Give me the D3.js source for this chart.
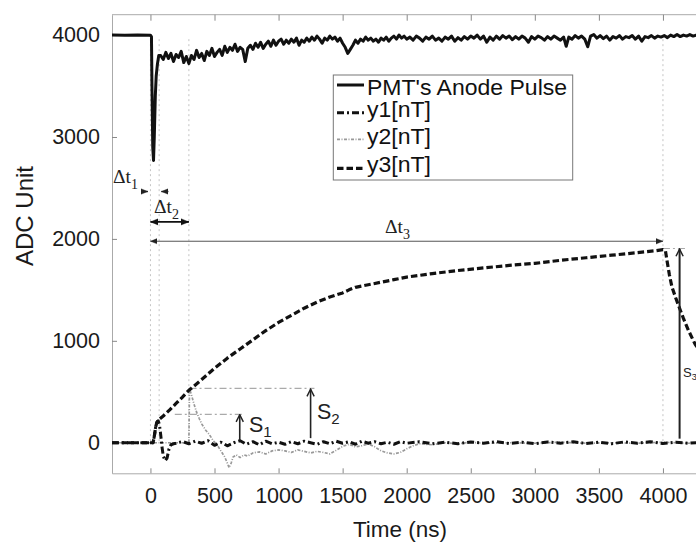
<!DOCTYPE html>
<html>
<head>
<meta charset="utf-8">
<script src="https://cdn.jsdelivr.net/npm/d3@7"></script>
<style>
  body { margin: 0; background: #fff; }
  svg { display: block; font-family: "Liberation Sans", Arial, sans-serif; }
</style>
</head>
<body>
<svg id="chart" width="696" height="543"></svg>
<script>
const xTicks = [0, 500, 1000, 1500, 2000, 2500, 3000, 3500, 4000, 4500];
const yTicks = [0, 1000, 2000, 3000, 4000];
const seriesNames = ["PMT's Anode Pulse", 'y1[nT]', 'y2[nT]', 'y3[nT]'];
const markerTimes = [0, 68, 300, 4000];

// [time ns, ADC]
const pmtPulse = [
  [-300, 4000], [-200, 3998], [-100, 4001], [0, 3998], [8, 3985], [12, 3500], [18, 2900], [24, 2770],
  [30, 3000], [38, 3400], [45, 3600], [55, 3720], [65, 3800], [80, 3800], [100, 3760], [120, 3830],
  [140, 3770], [160, 3820], [180, 3740], [200, 3810], [220, 3780], [240, 3840], [260, 3730], [280, 3790],
  [300, 3720], [320, 3800], [340, 3760], [360, 3850], [380, 3780], [400, 3820], [420, 3750], [440, 3840],
  [460, 3800], [480, 3870], [500, 3790], [520, 3830], [540, 3860], [560, 3800], [580, 3890], [600, 3830],
  [620, 3880], [640, 3850], [660, 3910], [680, 3840], [700, 3880], [720, 3860], [740, 3740], [760, 3870],
  [780, 3900], [800, 3860], [820, 3920], [840, 3880], [860, 3930], [880, 3870], [900, 3910], [920, 3940],
  [940, 3890], [960, 3950], [980, 3900], [1000, 3940], [1020, 3960], [1040, 3910], [1060, 3950], [1080, 3920],
  [1100, 3960], [1120, 3930], [1140, 3970], [1160, 3900], [1180, 3950], [1200, 3930], [1220, 3970], [1240, 3940],
  [1260, 3980], [1280, 3950], [1300, 3990], [1320, 3960], [1340, 3920], [1360, 3970], [1380, 3950], [1400, 3990],
  [1420, 3960], [1440, 3980], [1460, 3940], [1480, 3970], [1500, 3920], [1520, 3880], [1540, 3820], [1560, 3860],
  [1580, 3900], [1600, 3950], [1620, 3920], [1640, 3960], [1660, 3940], [1680, 3980], [1700, 3950], [1720, 3970],
  [1740, 3940], [1760, 3960], [1780, 3930], [1800, 3970], [1820, 3950], [1840, 3980], [1860, 3940], [1880, 3970],
  [1900, 3990], [1920, 3960], [1940, 4000], [1960, 3970], [1980, 3990], [2000, 3960], [2025, 3980], [2050, 3950],
  [2075, 3990], [2100, 3970], [2125, 3940], [2150, 3980], [2175, 3960], [2200, 3990], [2225, 3950], [2250, 3970],
  [2275, 3940], [2300, 3980], [2325, 3960], [2350, 3990], [2375, 3940], [2400, 3975], [2425, 3950], [2450, 3985],
  [2475, 3960], [2500, 3990], [2525, 3970], [2550, 4000], [2575, 3960], [2600, 3990], [2625, 3930], [2650, 3980],
  [2675, 3950], [2700, 3990], [2725, 3960], [2750, 3995], [2775, 3970], [2800, 3990], [2825, 3955], [2850, 3985],
  [2875, 3960], [2900, 3990], [2925, 3970], [2950, 3930], [2975, 3985], [3000, 3960], [3025, 3990], [3050, 3975],
  [3075, 3950], [3100, 3985], [3125, 3960], [3150, 3990], [3175, 3970], [3200, 3950], [3225, 3980], [3245, 3890],
  [3265, 3980], [3290, 3960], [3315, 3995], [3340, 3970], [3365, 3990], [3390, 3960], [3413, 3885], [3435, 3990],
  [3460, 4005], [3485, 3970], [3510, 3995], [3535, 3965], [3560, 3990], [3585, 3950], [3610, 3985], [3635, 3970],
  [3660, 3995], [3685, 3960], [3710, 3985], [3735, 3975], [3760, 3995], [3785, 3960], [3810, 3990], [3835, 3940],
  [3860, 3985], [3885, 3975], [3910, 3995], [3935, 3970], [3960, 3990], [3985, 3980], [4010, 3995], [4035, 3975],
  [4060, 4000], [4085, 3985], [4110, 4005], [4135, 3985], [4160, 4000], [4185, 3990], [4210, 4005], [4235, 3990],
  [4260, 4000], [4300, 3995]
];

const y1Data = [
  [-300, 0], [0, 0], [20, 0], [30, 60], [40, 150], [50, 200], [60, 215], [70, 180], [80, 80], [90, -40],
  [100, -130], [115, -175], [130, -150], [145, -60], [160, -20], [180, -10], [200, -5], [250, 12], [300, -10],
  [350, 15], [400, -5], [450, 20], [500, -25], [550, 5], [600, -30], [650, 0], [700, 20], [750, -15], [800, 10],
  [850, -20], [900, 15], [950, -10], [1000, 5], [1050, -15], [1100, 10], [1150, -10], [1200, 15], [1250, 0],
  [1300, -15], [1350, 10], [1400, -10], [1450, 15], [1500, -5], [1550, 10], [1600, -15], [1650, 15], [1700, -5],
  [1750, 10], [1800, -10], [1850, 5], [1900, -15], [1950, 10], [2000, -5], [2100, 10], [2200, -10], [2300, 5],
  [2400, -10], [2500, 8], [2600, -5], [2700, 10], [2800, -8], [2900, 5], [3000, -10], [3100, 8], [3200, -5],
  [3300, 10], [3400, -8], [3500, 5], [3600, -10], [3700, 8], [3800, -5], [3900, 10], [4000, -8], [4100, 5],
  [4200, -5], [4300, 5]
];

const y2Data = [
  [-300, 0], [300, 0], [305, 530], [320, 470], [340, 380], [360, 300], [380, 240], [400, 185], [430, 125],
  [460, 80], [490, 20], [520, -20], [550, -80], [580, -140], [600, -200], [614, -245], [630, -200], [645, -140],
  [670, -120], [700, -145], [730, -120], [760, -130], [800, -100], [850, -90], [900, -110], [950, -80],
  [1000, -70], [1050, -80], [1100, -95], [1150, -70], [1200, -85], [1250, -100], [1300, -85], [1350, -95],
  [1400, -110], [1450, -75], [1500, -35], [1550, -15], [1600, -40], [1650, -30], [1700, -10], [1750, -40],
  [1800, -80], [1850, -100], [1900, -110], [1950, -95], [2000, -60], [2050, -30], [2100, -10], [2200, -20],
  [2300, 0], [2400, -10], [2500, 5], [2600, -5], [2800, 0], [3000, -5], [3200, 5], [3400, -5], [3600, 0],
  [3800, -5], [4000, 5], [4200, -5], [4300, 0]
];

const y3Data = [
  [-300, 0], [0, 0], [20, 0], [30, 60], [40, 150], [50, 200], [65, 225], [100, 262], [150, 322], [200, 385],
  [250, 448], [300, 515], [320, 535], [400, 620], [500, 730], [600, 830], [700, 920], [800, 1010], [900, 1100],
  [1000, 1180], [1100, 1250], [1200, 1320], [1300, 1380], [1400, 1430], [1500, 1470], [1550, 1500], [1600, 1525],
  [1700, 1550], [1800, 1575], [1900, 1600], [2000, 1625], [2200, 1660], [2400, 1690], [2600, 1715],
  [2800, 1740], [3000, 1760], [3200, 1790], [3400, 1815], [3600, 1840], [3800, 1865], [3950, 1885],
  [4000, 1895], [4020, 1880], [4030, 1800], [4050, 1650], [4070, 1530], [4100, 1420], [4130, 1320],
  [4160, 1220], [4200, 1100], [4250, 970], [4300, 870]
];

const W = 696, H = 543;
const plot = { left: 112, top: 14.7, bottom: 473.3, right: 727 };

const svg = d3.select('#chart');
svg.append('rect').attr('width', W).attr('height', H).attr('fill', '#fff');

const x = d3.scaleLinear().domain([-300, 4500]).range([plot.left, plot.right]);
const y = d3.scaleLinear().domain([-300, 4200]).range([plot.bottom, plot.top]);

const defs = svg.append('defs');
defs.append('clipPath').attr('id', 'clip').append('rect')
  .attr('x', plot.left).attr('y', plot.top)
  .attr('width', plot.right - plot.left).attr('height', plot.bottom - plot.top);

function addMarker(id, size, open, color) {
  const m = defs.append('marker').attr('id', id)
    .attr('viewBox', '0 0 10 10').attr('refX', open ? 9 : 10).attr('refY', 5)
    .attr('markerUnits', 'userSpaceOnUse')
    .attr('markerWidth', size).attr('markerHeight', size)
    .attr('orient', 'auto-start-reverse');
  m.append('path')
    .attr('d', open ? 'M1,1 L9,5 L1,9' : 'M0,1 L10,5 L0,9 z')
    .attr('fill', open ? 'none' : color)
    .attr('stroke', color).attr('stroke-width', open ? 1.6 : 0.5);
}
addMarker('headFill', 8, false, '#111');
addMarker('headSmall', 7, false, '#222');
addMarker('headOpen', 9, true, '#222');

// frame + axes
svg.append('line').attr('x1', plot.left).attr('x2', W).attr('y1', plot.top).attr('y2', plot.top)
  .attr('stroke', '#aaa').attr('stroke-width', 1);

const xAxis = svg.append('g').attr('transform', `translate(0,${plot.bottom})`)
  .call(d3.axisBottom(x).tickValues(xTicks).tickSizeInner(-5).tickSizeOuter(0).tickPadding(14).tickFormat(d3.format('d')));
const xTop = svg.append('g').attr('transform', `translate(0,${plot.top})`)
  .call(d3.axisTop(x).tickValues(xTicks).tickSizeInner(-6).tickSizeOuter(0).tickFormat(''));
xTop.select('.domain').remove();
const yAxis = svg.append('g').attr('transform', `translate(${plot.left},0)`)
  .call(d3.axisLeft(y).tickValues(yTicks).tickSizeInner(-5).tickSizeOuter(0).tickPadding(12).tickFormat(d3.format('d')));

[xAxis, xTop, yAxis].forEach(g => {
  g.select('.domain').attr('stroke', '#aaa');
  g.selectAll('.tick line').attr('stroke', '#888');
  g.selectAll('.tick text').attr('fill', '#1a1a1a').attr('font-size', 21.5)
    .attr('font-family', '"Liberation Sans", Arial, sans-serif');
});
xAxis.selectAll('.tick text').attr('dy', '0.72em').attr('y', 14);
xAxis.selectAll('.tick').filter(d => d > 4300).remove();

svg.append('text').attr('x', 400).attr('y', 537).attr('text-anchor', 'middle')
  .attr('font-size', 22.5).attr('fill', '#1a1a1a').text('Time (ns)');
svg.append('text').attr('transform', 'translate(33,216) rotate(-90)').attr('text-anchor', 'middle')
  .attr('font-size', 24).attr('fill', '#1a1a1a').text('ADC Unit');

const gPlot = svg.append('g').attr('clip-path', 'url(#clip)');

// vertical dotted timing guides
gPlot.selectAll('line.guide').data(markerTimes).join('line').attr('class', 'guide')
  .attr('x1', d => x(d)).attr('x2', d => x(d))
  .attr('y1', y(3960)).attr('y2', y(0))
  .attr('stroke', '#c4c4c4').attr('stroke-width', 1).attr('stroke-dasharray', '2,3');

// S reference levels (dash-dot gray)
const refs = [[190, 735, 278], [305, 1280, 533], [4000, 4180, 1906]];
gPlot.selectAll('line.ref').data(refs).join('line').attr('class', 'ref')
  .attr('x1', d => x(d[0])).attr('x2', d => x(d[1]))
  .attr('y1', d => y(d[2])).attr('y2', d => y(d[2]))
  .attr('stroke', '#aaa').attr('stroke-width', 1.2).attr('stroke-dasharray', '7,3,2,3');

const line = d3.line().x(d => x(d[0])).y(d => y(d[1]));

const styles = [
  { data: pmtPulse, stroke: '#111', width: 3, dash: null },
  { data: y1Data, stroke: '#111', width: 3, dash: '7,3,2,3' },
  { data: y2Data, stroke: '#999', width: 1.7, dash: '3,1.5,1,1.5' },
  { data: y3Data, stroke: '#111', width: 3.2, dash: '6.5,3' }
];
// draw y2 under the black ones
[2, 0, 3, 1].forEach(i => {
  const s = styles[i];
  gPlot.append('path').datum(s.data).attr('d', line)
    .attr('fill', 'none').attr('stroke', s.stroke).attr('stroke-width', s.width)
    .attr('stroke-linejoin', 'round').attr('stroke-dasharray', s.dash);
});

// Δt annotations
const gAnn = svg.append('g');
function deltaLabel(px, py, sub, size) {
  const t = gAnn.append('text').attr('x', px).attr('y', py)
    .attr('font-family', '"Liberation Serif", "Times New Roman", serif')
    .attr('font-size', size).attr('fill', '#222');
  t.append('tspan').text('\u0394t');
  t.append('tspan').attr('font-size', size * 0.72).attr('dy', 6).text(sub);
}
deltaLabel(113, 183, '1', 19.5);
deltaLabel(154, 213, '2', 19.5);
deltaLabel(385, 233, '3', 19.5);

// Δt1: two short arrows pointing inward
gAnn.append('line').attr('x1', x(-70)).attr('x2', x(-20)).attr('y1', y(2465)).attr('y2', y(2465))
  .attr('stroke', '#111').attr('stroke-width', 1.3).attr('marker-end', 'url(#headSmall)');
gAnn.append('line').attr('x1', x(140)).attr('x2', x(85)).attr('y1', y(2465)).attr('y2', y(2465))
  .attr('stroke', '#111').attr('stroke-width', 1.3).attr('marker-end', 'url(#headSmall)');
// Δt2
gAnn.append('line').attr('x1', x(0)).attr('x2', x(300)).attr('y1', y(2167)).attr('y2', y(2167))
  .attr('stroke', '#111').attr('stroke-width', 1.8)
  .attr('marker-start', 'url(#headFill)').attr('marker-end', 'url(#headFill)');
// Δt3
gAnn.append('line').attr('x1', x(0)).attr('x2', x(4000)).attr('y1', y(1977)).attr('y2', y(1977))
  .attr('stroke', '#555').attr('stroke-width', 1)
  .attr('marker-start', 'url(#headSmall)').attr('marker-end', 'url(#headSmall)');

// S arrows
const sArrows = [[697, 25, 275], [1250, 45, 525], [4130, 40, 1900]];
gAnn.selectAll('line.s').data(sArrows).join('line').attr('class', 's')
  .attr('x1', d => x(d[0])).attr('x2', d => x(d[0]))
  .attr('y1', d => y(d[1])).attr('y2', d => y(d[2]))
  .attr('stroke', '#222').attr('stroke-width', (d, i) => i === 2 ? 2 : 1.6)
  .attr('marker-end', 'url(#headOpen)');

function sLabel(px, py, sub, size) {
  const t = gAnn.append('text').attr('x', px).attr('y', py).attr('font-size', size).attr('fill', '#222');
  t.append('tspan').text('S');
  t.append('tspan').attr('font-size', size * 0.7).attr('dy', size * 0.25).text(sub);
}
sLabel(249, 432, '1', 21.5);
sLabel(317, 419, '2', 21.5);
sLabel(683, 377, '3', 13);

// legend
const lg = svg.append('g');
lg.append('rect').attr('x', 333.3).attr('y', 75).attr('width', 239.4).attr('height', 105)
  .attr('fill', '#fff').attr('stroke', '#777').attr('stroke-width', 1);
const legendRows = [85, 112.7, 139.3, 168.3];
const legendBase = [95, 116.7, 144, 171.7];
seriesNames.forEach((name, i) => {
  const s = styles[i];
  lg.append('line').attr('x1', 337).attr('x2', 364).attr('y1', legendRows[i]).attr('y2', legendRows[i])
    .attr('stroke', s.stroke).attr('stroke-width', s.width).attr('stroke-dasharray', s.dash);
  const t = lg.append('text').attr('x', 367).attr('y', legendBase[i]).attr('font-size', 21.5)
    .attr('fill', '#111').text(name);
  // the original lettering is slightly wider than Liberation Sans
  const len = t.node().getComputedTextLength();
  t.attr('textLength', len * 1.07).attr('lengthAdjust', 'spacingAndGlyphs');
});
</script>
</body>
</html>
